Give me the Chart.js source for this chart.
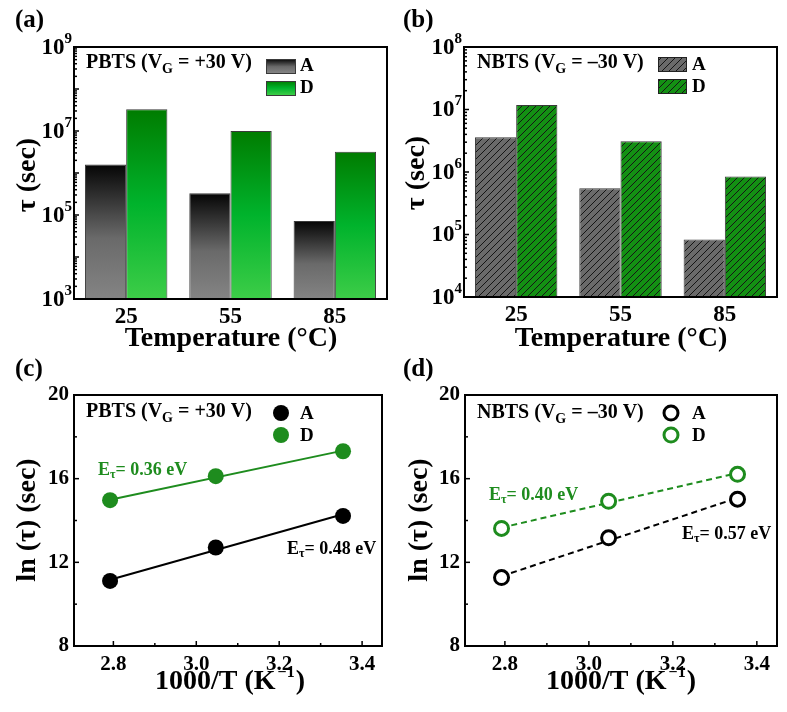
<!DOCTYPE html>
<html>
<head>
<meta charset="utf-8">
<script src="https://cdn.jsdelivr.net/npm/chart.js@4/dist/chart.umd.min.js"></script>
<style>
  body { margin: 0; background: #fff; width: 787px; height: 712px; position: relative; overflow: hidden; }
  canvas { position: absolute; display: block; }
</style>
</head>
<body>
<canvas id="ca" width="390" height="360" style="left:0;top:0"></canvas>
<canvas id="cb" width="397" height="360" style="left:390px;top:0"></canvas>
<canvas id="cc" width="390" height="362" style="left:0;top:350px"></canvas>
<canvas id="cd" width="397" height="362" style="left:390px;top:350px"></canvas>
<script>
// bar panels (a), (b): tau in seconds
const temps = ['25', '55', '85'];
const pbtsA = [1.6e6, 3.3e5, 7.2e4];
const pbtsD = [3.3e7, 1.0e7, 3.2e6];
const nbtsA = [3.6e6, 5.5e5, 8.3e4];
const nbtsD = [1.18e7, 3.1e6, 8.5e5];

// arrhenius panels (c), (d): x = 1000/T, y = ln(tau)
const invT = [2.792, 3.047, 3.354];
const lnPbtsA = [11.11, 12.71, 14.22];
const lnPbtsD = [14.97, 16.12, 17.31];
const lnNbtsA = [11.27, 13.17, 15.02];
const lnNbtsD = [13.62, 14.92, 16.21];

// fitted lines
const fitX = [2.792, 3.354];
const fitPbtsA = [11.17, 14.30];
const fitPbtsD = [14.99, 17.34];
const fitNbtsA = [11.34, 15.08];
const fitNbtsD = [13.66, 16.27];

const FONT = '"Liberation Serif", "Times New Roman", serif';
const GREEN = '#1e8c1e';

function font(size) { return 'bold ' + size + 'px ' + FONT; }

function rich(ctx, x, y, parts, color, align) {
    ctx.save();
    ctx.fillStyle = color || '#000';
    ctx.textBaseline = 'middle';
    ctx.textAlign = 'left';
    let w = 0;
    parts.forEach(p => { ctx.font = font(p[1]); w += ctx.measureText(p[0]).width + (p[3] || 0); });
    let cx = x;
    if (align === 'center') cx = x - w / 2;
    if (align === 'right') cx = x - w;
    parts.forEach(p => {
        ctx.font = font(p[1]);
        cx += p[3] || 0;
        ctx.fillText(p[0], cx, y + (p[2] || 0));
        cx += ctx.measureText(p[0]).width;
    });
    ctx.restore();
}

function vtitle(ctx, x, y, text, size) {
    ctx.save();
    ctx.translate(x, y);
    ctx.rotate(-Math.PI / 2);
    ctx.font = font(size);
    ctx.fillStyle = '#000';
    ctx.textAlign = 'center';
    ctx.textBaseline = 'middle';
    ctx.fillText(text, 0, 0);
    ctx.restore();
}

function line(ctx, x1, y1, x2, y2) {
    ctx.beginPath();
    ctx.moveTo(x1, y1);
    ctx.lineTo(x2, y2);
    ctx.stroke();
}

function frame(chart) {
    const ctx = chart.ctx, a = chart.chartArea;
    ctx.save();
    ctx.strokeStyle = '#000';
    ctx.lineWidth = 2;
    ctx.strokeRect(a.left, a.top, a.right - a.left, a.bottom - a.top);
    ctx.restore();
}

function logAxis(chart, lo, hi, labelled) {
    const ctx = chart.ctx, a = chart.chartArea, y = chart.scales.y;
    ctx.save();
    ctx.strokeStyle = '#000';
    ctx.lineWidth = 1.5;
    for (let k = lo; k <= hi; k++) {
        const p = y.getPixelForValue(Math.pow(10, k));
        line(ctx, a.left, p, a.left + 5, p);
        if (k < hi) {
            for (let m = 2; m <= 9; m++) {
                const q = y.getPixelForValue(m * Math.pow(10, k));
                line(ctx, a.left, q, a.left + 3, q);
            }
        }
        if (labelled.includes(k)) {
            rich(ctx, a.left - 2, p + 1, [['10', 23], [String(k), 15, -9]], '#000', 'right');
        }
    }
    ctx.restore();
}

function linTicks(chart, xs, xsMinor, ys, ysMinor) {
    const ctx = chart.ctx, a = chart.chartArea, sx = chart.scales.x, sy = chart.scales.y;
    ctx.save();
    ctx.strokeStyle = '#000';
    ctx.lineWidth = 1.5;
    xs.forEach(v => { const p = sx.getPixelForValue(v); line(ctx, p, a.bottom, p, a.bottom - 5); });
    xsMinor.forEach(v => { const p = sx.getPixelForValue(v); line(ctx, p, a.bottom, p, a.bottom - 3); });
    ys.forEach(v => { const p = sy.getPixelForValue(v); line(ctx, a.left, p, a.left + 5, p); });
    ysMinor.forEach(v => { const p = sy.getPixelForValue(v); line(ctx, a.left, p, a.left + 3, p); });
    ctx.restore();
}

function gradient(ctx, top, bottom, stops) {
    const g = ctx.createLinearGradient(0, top, 0, bottom);
    stops.forEach(s => g.addColorStop(s[0], s[1]));
    return g;
}

const greyStops = [[0, '#050505'], [0.55, '#6a6a6a'], [1, '#848484']];
const greenStops = [[0, '#007c00'], [0.5, '#00b32c'], [1, '#3dcd48']];

function barFill(stops) {
    return function (c) {
        const chart = c.chart;
        if (c.type !== 'data' || !chart.chartArea) return stops[1][1];
        const top = chart.scales.y.getPixelForValue(c.raw);
        return gradient(chart.ctx, top, chart.chartArea.bottom, stops);
    };
}

function hatch(bg) {
    const c = document.createElement('canvas');
    c.width = 7; c.height = 7;
    const x = c.getContext('2d');
    x.fillStyle = bg;
    x.fillRect(0, 0, 7, 7);
    x.strokeStyle = '#151515';
    x.lineWidth = 1;
    x.beginPath();
    x.moveTo(0, 7); x.lineTo(7, 0);
    x.moveTo(-1, 1); x.lineTo(1, -1);
    x.moveTo(6, 8); x.lineTo(8, 6);
    x.stroke();
    return x.createPattern(c, 'repeat');
}

const hatchA = hatch('#6a6a6a');
const hatchD = hatch('#139013');

function barChart(id, a, d, fillA, fillD, yMin, yMax, pad, xHeight, extra) {
    return new Chart(document.getElementById(id), {
        type: 'bar',
        data: {
            labels: temps,
            datasets: [
                {label: 'A', data: a, backgroundColor: fillA, borderColor: '#3a3a3a', borderWidth: 1,
                 categoryPercentage: 0.79, barPercentage: 1.0},
                {label: 'D', data: d, backgroundColor: fillD, borderColor: '#3a3a3a', borderWidth: 1,
                 categoryPercentage: 0.79, barPercentage: 1.0}
            ]
        },
        options: {
            responsive: false,
            devicePixelRatio: 1,
            animation: false,
            layout: {padding: pad},
            plugins: {legend: {display: false}, tooltip: {enabled: false}},
            scales: {
                x: {
                    grid: {display: false, drawTicks: false}, border: {display: false},
                    ticks: {font: {family: FONT, size: 23, weight: 'bold'}, color: '#000', padding: 4},
                    afterFit: s => { s.height = xHeight; }
                },
                y: {
                    type: 'logarithmic', min: yMin, max: yMax,
                    grid: {display: false, drawTicks: false}, border: {display: false},
                    ticks: {display: false},
                    afterFit: s => { s.width = 74; }
                }
            }
        },
        plugins: [extra]
    });
}

// (a)
barChart('ca', pbtsA, pbtsD, barFill(greyStops), barFill(greenStops), 1e3, 1e9,
    {left: 0, right: 3, top: 47, bottom: 9}, 52, {
    id: 'decorA',
    afterDraw(chart) {
        const ctx = chart.ctx;
        frame(chart);
        logAxis(chart, 3, 9, [3, 5, 7, 9]);
        rich(ctx, 15, 21, [['(a)', 25]]);
        vtitle(ctx, 28, 175, '\u03c4 (sec)', 28);
        rich(ctx, 231, 339, [['Temperature (\u00b0C)', 28]], '#000', 'center');
        rich(ctx, 86, 63, [['PBTS (V', 20], ['G', 14, 6], [' = +30 V)', 20]]);
        ctx.save();
        ctx.strokeStyle = '#3a3a3a';
        ctx.lineWidth = 1;
        ctx.fillStyle = gradient(ctx, 59, 73, greyStops);
        ctx.fillRect(266, 59, 29, 14); ctx.strokeRect(266.5, 59.5, 29, 14);
        ctx.fillStyle = gradient(ctx, 81, 95, greenStops);
        ctx.fillRect(266, 81, 29, 14); ctx.strokeRect(266.5, 81.5, 29, 14);
        ctx.restore();
        rich(ctx, 300, 66, [['A', 19]]);
        rich(ctx, 300, 88, [['D', 19]]);
    }
});

// (b)
barChart('cb', nbtsA, nbtsD, hatchA, hatchD, 1e4, 1e8,
    {left: 0, right: 10, top: 47, bottom: 9}, 54, {
    id: 'decorB',
    afterDraw(chart) {
        const ctx = chart.ctx;
        frame(chart);
        logAxis(chart, 4, 8, [4, 5, 6, 7, 8]);
        rich(ctx, 13, 21, [['(b)', 25]]);
        vtitle(ctx, 27, 173, '\u03c4 (sec)', 28);
        rich(ctx, 231, 339, [['Temperature (\u00b0C)', 28]], '#000', 'center');
        rich(ctx, 87, 63, [['NBTS (V', 20], ['G', 14, 6], [' = \u201330 V)', 20]]);
        ctx.save();
        ctx.strokeStyle = '#222';
        ctx.lineWidth = 1;
        ctx.fillStyle = hatchA;
        ctx.fillRect(268, 57, 28, 14); ctx.strokeRect(268.5, 57.5, 28, 14);
        ctx.fillStyle = hatchD;
        ctx.fillRect(268, 79, 28, 14); ctx.strokeRect(268.5, 79.5, 28, 14);
        ctx.restore();
        rich(ctx, 302, 65, [['A', 19]]);
        rich(ctx, 302, 87, [['D', 19]]);
    }
});

function pts(xs, ys) { return xs.map((x, i) => ({x: x, y: ys[i]})); }

function arrChart(id, a, d, fa, fd, open, pad, extra) {
    const pointA = open
        ? {pointRadius: 7, pointBorderWidth: 3, pointBackgroundColor: '#fff', pointBorderColor: '#000'}
        : {pointRadius: 8, pointBorderWidth: 0, pointBackgroundColor: '#000', pointBorderColor: '#000'};
    const pointD = open
        ? {pointRadius: 7, pointBorderWidth: 3, pointBackgroundColor: '#fff', pointBorderColor: GREEN}
        : {pointRadius: 8, pointBorderWidth: 0, pointBackgroundColor: GREEN, pointBorderColor: GREEN};
    const dash = open ? [6, 4] : [];
    return new Chart(document.getElementById(id), {
        type: 'scatter',
        data: {
            datasets: [
                Object.assign({label: 'A', data: pts(invT, a), showLine: false}, pointA),
                Object.assign({label: 'D', data: pts(invT, d), showLine: false}, pointD),
                {label: 'fitA', data: pts(fitX, fa), showLine: true, pointRadius: 0,
                 borderColor: '#000', borderWidth: 2, borderDash: dash},
                {label: 'fitD', data: pts(fitX, fd), showLine: true, pointRadius: 0,
                 borderColor: GREEN, borderWidth: 2, borderDash: dash}
            ]
        },
        options: {
            responsive: false,
            devicePixelRatio: 1,
            animation: false,
            layout: {padding: pad},
            plugins: {legend: {display: false}, tooltip: {enabled: false}},
            scales: {
                x: {
                    type: 'linear', min: 2.705, max: 3.448,
                    grid: {display: false, drawTicks: false}, border: {display: false},
                    ticks: {stepSize: 0.2, includeBounds: false, autoSkip: false,
                            font: {family: FONT, size: 21, weight: 'bold'}, color: '#000', padding: 6,
                            callback: v => v.toFixed(1)},
                    afterFit: s => { s.height = 57; }
                },
                y: {
                    min: 8, max: 20,
                    grid: {display: false, drawTicks: false}, border: {display: false},
                    ticks: {stepSize: 4, font: {family: FONT, size: 21, weight: 'bold'}, color: '#000', padding: 5},
                    afterFit: s => { s.width = pad.yw; }
                }
            }
        },
        plugins: [extra]
    });
}

function legendDot(ctx, x, y, color, open) {
    ctx.save();
    ctx.beginPath();
    if (open) {
        ctx.arc(x, y, 7, 0, Math.PI * 2);
        ctx.fillStyle = '#fff';
        ctx.fill();
        ctx.lineWidth = 3;
        ctx.strokeStyle = color;
        ctx.stroke();
    } else {
        ctx.arc(x, y, 8, 0, Math.PI * 2);
        ctx.fillStyle = color;
        ctx.fill();
    }
    ctx.restore();
}

function kTitle(ctx, x, y) {
    rich(ctx, x, y, [['1000/T (K', 28], ['\u22121', 16, -9, 2], [')', 28, 0, 1]], '#000', 'center');
}

// (c)
arrChart('cc', lnPbtsA, lnPbtsD, fitPbtsA, fitPbtsD, false,
    {left: 0, right: 4, top: 45, bottom: 9, yw: 74}, {
    id: 'decorC',
    afterDraw(chart) {
        const ctx = chart.ctx;
        frame(chart);
        linTicks(chart, [2.8, 3.0, 3.2, 3.4], [2.9, 3.1, 3.3], [8, 12, 16, 20], [10, 14, 18]);
        rich(ctx, 15, 20, [['(c)', 25]]);
        vtitle(ctx, 28, 170, 'ln (\u03c4) (sec)', 28);
        kTitle(ctx, 230, 332);
        rich(ctx, 86, 62, [['PBTS (V', 20], ['G', 14, 6], [' = +30 V)', 20]]);
        legendDot(ctx, 281, 63, '#000', false);
        legendDot(ctx, 281, 85, GREEN, false);
        rich(ctx, 300, 64, [['A', 19]]);
        rich(ctx, 300, 86, [['D', 19]]);
        rich(ctx, 98, 120, [['E', 18], ['\u03c4', 12, 5], ['= 0.36 eV', 18]], GREEN);
        rich(ctx, 287, 199, [['E', 18], ['\u03c4', 12, 5], ['= 0.48 eV', 18]], '#000');
    }
});

// (d)
arrChart('cd', lnNbtsA, lnNbtsD, fitNbtsA, fitNbtsD, true,
    {left: 0, right: 10, top: 45, bottom: 9, yw: 75}, {
    id: 'decorD',
    afterDraw(chart) {
        const ctx = chart.ctx;
        frame(chart);
        linTicks(chart, [2.8, 3.0, 3.2, 3.4], [2.9, 3.1, 3.3], [8, 12, 16, 20], [10, 14, 18]);
        rich(ctx, 13, 20, [['(d)', 25]]);
        vtitle(ctx, 30, 170, 'ln (\u03c4) (sec)', 28);
        kTitle(ctx, 231, 332);
        rich(ctx, 87, 63, [['NBTS (V', 20], ['G', 14, 6], [' = \u201330 V)', 20]]);
        legendDot(ctx, 281, 63, '#000', true);
        legendDot(ctx, 281, 85, GREEN, true);
        rich(ctx, 302, 64, [['A', 19]]);
        rich(ctx, 302, 86, [['D', 19]]);
        rich(ctx, 99, 145, [['E', 18], ['\u03c4', 12, 5], ['= 0.40 eV', 18]], GREEN);
        rich(ctx, 292, 184, [['E', 18], ['\u03c4', 12, 5], ['= 0.57 eV', 18]], '#000');
    }
});
</script>
</body>
</html>
